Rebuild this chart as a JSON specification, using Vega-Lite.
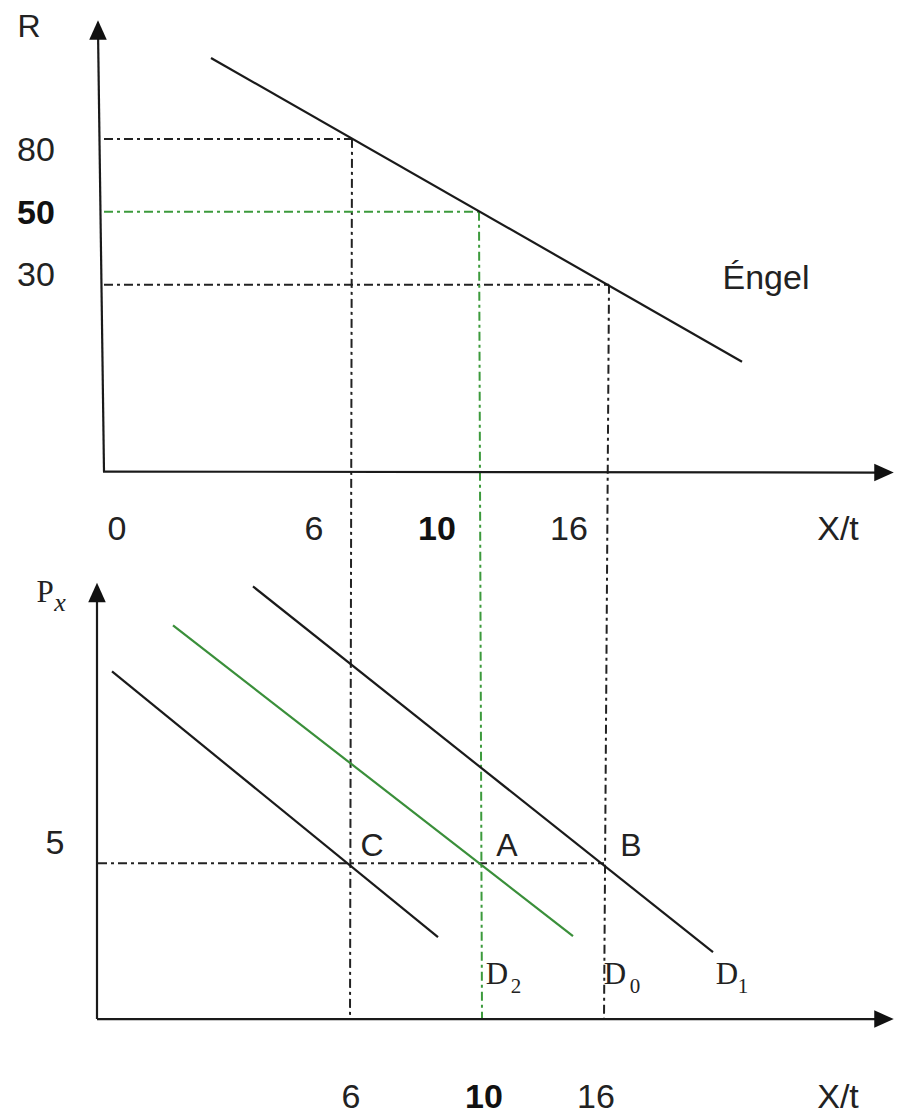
{
  "$schema": "https://vega.github.io/schema/vega-lite/v6.json",
  "autosize": {"type": "fit", "contains": "padding"},
  "width": 898,
  "height": 1115,
  "padding": 0,
  "background": "white",
  "config": {"view": {"stroke": null}},
  "datasets": {
    "solid": [
      {"name": "R axis", "x": 104, "y": 472, "x2": 98, "y2": 30},
      {"name": "X axis top", "x": 103, "y": 472, "x2": 882, "y2": 473},
      {"name": "Px axis", "x": 97, "y": 1020, "x2": 97, "y2": 592},
      {"name": "X axis bottom", "x": 97, "y": 1020, "x2": 882, "y2": 1020},
      {"name": "Engel", "x": 211, "y": 58, "x2": 742, "y2": 362},
      {"name": "D0", "x": 112, "y": 672, "x2": 438, "y2": 938},
      {"name": "D1", "x": 253, "y": 587, "x2": 713, "y2": 953}
    ],
    "greenSolid": [
      {"name": "D2", "x": 173, "y": 626, "x2": 573, "y2": 937}
    ],
    "dashed": [
      {"name": "R=80", "x": 104, "y": 139, "x2": 352, "y2": 139},
      {"name": "R=30", "x": 104, "y": 285, "x2": 609, "y2": 285},
      {"name": "Px=5", "x": 98, "y": 864, "x2": 604, "y2": 864},
      {"name": "X=6", "x": 352, "y": 139, "x2": 350, "y2": 1020},
      {"name": "X=16", "x": 609, "y": 285, "x2": 604, "y2": 1020}
    ],
    "greenDashed": [
      {"name": "R=50", "x": 104, "y": 212, "x2": 479, "y2": 212},
      {"name": "X=10", "x": 479, "y": 212, "x2": 482, "y2": 1020}
    ],
    "arrowsUp": [
      {"x": 98, "y": 30},
      {"x": 97, "y": 593}
    ],
    "arrowsRight": [
      {"x": 884, "y": 473},
      {"x": 884, "y": 1020}
    ],
    "sansText": [
      {"label": "R", "x": 29, "y": 27, "size": "s"},
      {"label": "80", "x": 36, "y": 151, "size": "l"},
      {"label": "30", "x": 36, "y": 276, "size": "l"},
      {"label": "Éngel", "x": 766, "y": 279, "size": "l"},
      {"label": "0", "x": 117, "y": 530, "size": "l"},
      {"label": "6", "x": 314, "y": 530, "size": "l"},
      {"label": "16", "x": 569, "y": 530, "size": "l"},
      {"label": "X/t", "x": 838, "y": 530, "size": "l"},
      {"label": "5", "x": 55, "y": 845, "size": "l"},
      {"label": "C", "x": 372, "y": 847, "size": "s"},
      {"label": "A", "x": 507, "y": 847, "size": "s"},
      {"label": "B", "x": 631, "y": 847, "size": "s"},
      {"label": "6", "x": 351, "y": 1099, "size": "l"},
      {"label": "16", "x": 596, "y": 1099, "size": "l"},
      {"label": "X/t", "x": 838, "y": 1099, "size": "l"}
    ],
    "boldText": [
      {"label": "50", "x": 36, "y": 214},
      {"label": "10", "x": 437, "y": 530},
      {"label": "10", "x": 484, "y": 1099}
    ],
    "serifMain": [
      {"label": "D", "x": 497, "y": 976},
      {"label": "D", "x": 615, "y": 976},
      {"label": "D", "x": 727, "y": 976},
      {"label": "P", "x": 45, "y": 594}
    ],
    "serifSub": [
      {"label": "2", "x": 516, "y": 988},
      {"label": "0", "x": 635, "y": 988},
      {"label": "1", "x": 743, "y": 988}
    ],
    "serifItalicSub": [
      {"label": "x", "x": 60, "y": 604}
    ]
  },
  "encoding": {
    "x": {"field": "x", "type": "quantitative", "scale": {"domain": [0, 898], "nice": false, "zero": false}, "axis": null},
    "y": {"field": "y", "type": "quantitative", "scale": {"domain": [0, 1115], "nice": false, "zero": false, "reverse": true}, "axis": null}
  },
  "layer": [
    {
      "data": {"name": "dashed"},
      "mark": {"type": "rule", "color": "#222222", "strokeWidth": 2, "strokeDash": [9, 4, 3, 4]},
      "encoding": {"x2": {"field": "x2"}, "y2": {"field": "y2"}}
    },
    {
      "data": {"name": "greenDashed"},
      "mark": {"type": "rule", "color": "#3c9a3c", "strokeWidth": 2, "strokeDash": [9, 4, 3, 4]},
      "encoding": {"x2": {"field": "x2"}, "y2": {"field": "y2"}}
    },
    {
      "data": {"name": "solid"},
      "mark": {"type": "rule", "color": "#1a1a1a", "strokeWidth": 2.2},
      "encoding": {"x2": {"field": "x2"}, "y2": {"field": "y2"}}
    },
    {
      "data": {"name": "greenSolid"},
      "mark": {"type": "rule", "color": "#3a8f3a", "strokeWidth": 2.2},
      "encoding": {"x2": {"field": "x2"}, "y2": {"field": "y2"}}
    },
    {
      "data": {"name": "arrowsUp"},
      "mark": {"type": "point", "shape": "M0,-1L-0.9,1L0.9,1Z", "size": 380, "filled": true, "color": "#111111", "opacity": 1}
    },
    {
      "data": {"name": "arrowsRight"},
      "mark": {"type": "point", "shape": "M1,0L-1,-0.9L-1,0.9Z", "size": 380, "filled": true, "color": "#111111", "opacity": 1}
    },
    {
      "data": {"name": "sansText"},
      "mark": {"type": "text", "font": "Liberation Sans", "align": "center", "baseline": "middle", "color": "#222222"},
      "encoding": {
        "text": {"field": "label"},
        "size": {"field": "size", "type": "nominal", "scale": {"domain": ["s", "l"], "range": [32, 34]}, "legend": null}
      }
    },
    {
      "data": {"name": "boldText"},
      "mark": {"type": "text", "font": "Liberation Sans", "fontWeight": "bold", "fontSize": 34, "align": "center", "baseline": "middle", "color": "#111111"},
      "encoding": {"text": {"field": "label"}}
    },
    {
      "data": {"name": "serifMain"},
      "mark": {"type": "text", "font": "Liberation Serif", "fontSize": 31, "align": "center", "baseline": "middle", "color": "#222222"},
      "encoding": {"text": {"field": "label"}}
    },
    {
      "data": {"name": "serifSub"},
      "mark": {"type": "text", "font": "Liberation Serif", "fontSize": 21, "align": "center", "baseline": "middle", "color": "#222222"},
      "encoding": {"text": {"field": "label"}}
    },
    {
      "data": {"name": "serifItalicSub"},
      "mark": {"type": "text", "font": "Liberation Serif", "fontStyle": "italic", "fontSize": 26, "align": "center", "baseline": "middle", "color": "#222222"},
      "encoding": {"text": {"field": "label"}}
    }
  ]
}
